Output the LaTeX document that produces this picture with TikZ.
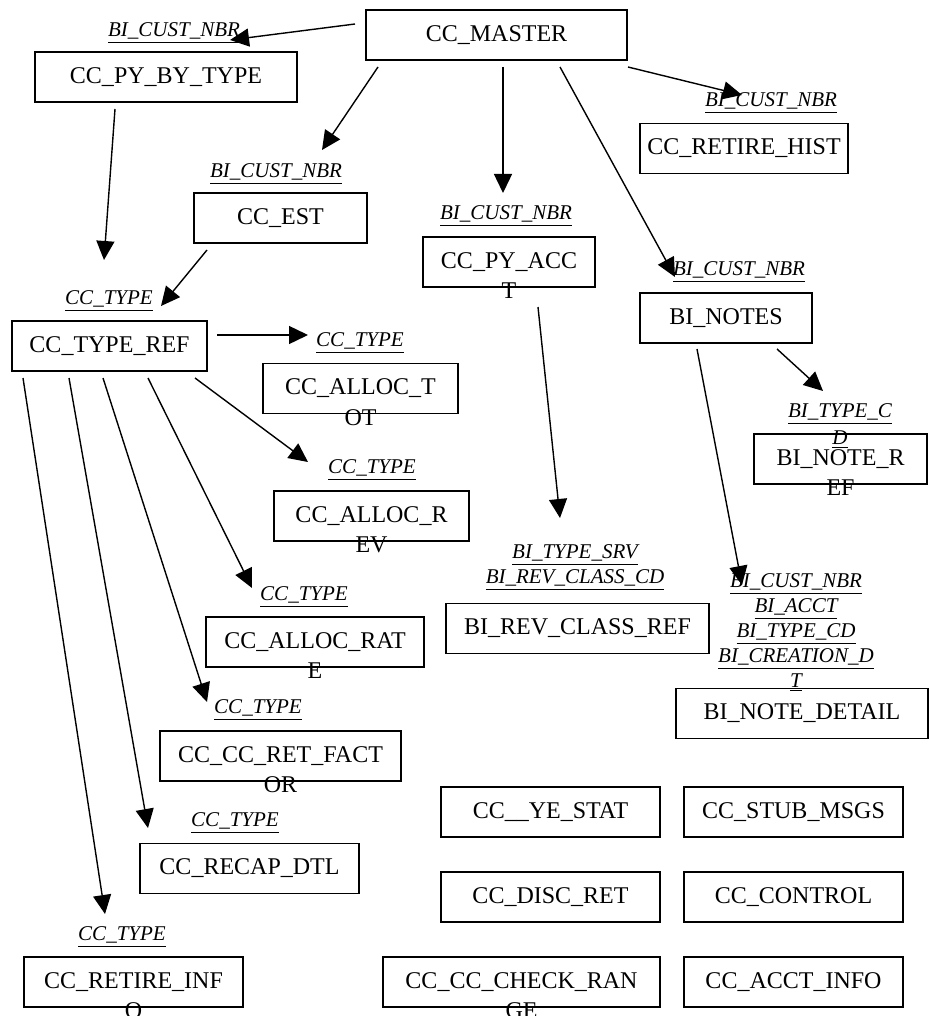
\documentclass[tikz,border=0pt]{standalone}
\usepackage{fontspec}
\setmainfont{Liberation Serif}
\usetikzlibrary{arrows.meta}

\tikzset{
    tbl/.style={draw, line width=0.9pt, minimum height=25pt, inner sep=0pt, font=\fontsize{12}{14}\selectfont},
    key/.style={inner sep=0pt, align=center, font=\fontsize{10.5}{12.5}\selectfont\itshape},
    wrap/.style={label={[anchor=center, yshift=-1.5pt, inner sep=0pt, font=\fontsize{12}{14}\selectfont]below:#1}},
    fk/.style={-{Triangle[length=9.5pt, width=9pt]}, line width=0.7pt},
}

\begin{document}
\begin{tikzpicture}[x=0.5pt, y=-0.5pt]
    \useasboundingbox (0,0) rectangle (929,1016);

    % Tables
    \node (master) [tbl, minimum width=130.5pt] at (496.5,35) {CC\_MASTER};
    \node (pybytype) [tbl, minimum width=131pt] at (166,77) {CC\_PY\_BY\_TYPE};
    \node (est) [tbl, minimum width=86.5pt] at (280.5,218) {CC\_EST};
    \node (pyacct) [tbl, minimum width=86pt, wrap=T] at (509,262) {CC\_PY\_ACC};
    \node (retirehist) [tbl, minimum width=104pt] at (744,148.5) {CC\_RETIRE\_HIST};
    \node (binotes) [tbl, minimum width=86pt] at (726,318) {BI\_NOTES};
    \node (noteref) [tbl, minimum width=86.5pt, wrap=EF] at (840.5,459) {BI\_NOTE\_R};
    \node (notedetail) [tbl, minimum width=126pt] at (802,713.5) {BI\_NOTE\_DETAIL};
    \node (revclass) [tbl, minimum width=131.5pt] at (577.5,628.5) {BI\_REV\_CLASS\_REF};
    \node (typeref) [tbl, minimum width=97.5pt] at (109.5,346) {CC\_TYPE\_REF};
    \node (alloctot) [tbl, minimum width=97.5pt, wrap=OT] at (360.5,388.5) {CC\_ALLOC\_T};
    \node (allocrev) [tbl, minimum width=97.5pt, wrap=EV] at (371.5,516) {CC\_ALLOC\_R};
    \node (allocrate) [tbl, minimum width=109pt, wrap=E] at (315,642) {CC\_ALLOC\_RAT};
    \node (retfactor) [tbl, minimum width=120.5pt, wrap=OR] at (280.5,756) {CC\_CC\_RET\_FACT};
    \node (recap) [tbl, minimum width=109.5pt] at (249.5,868.5) {CC\_RECAP\_DTL};
    \node (retireinf) [tbl, minimum width=109.5pt, wrap=O] at (133.5,982) {CC\_RETIRE\_INF};
    \node (yestat) [tbl, minimum width=109.5pt] at (550.5,812) {CC\_\_YE\_STAT};
    \node (stubmsgs) [tbl, minimum width=109.5pt] at (793.5,812) {CC\_STUB\_MSGS};
    \node (discret) [tbl, minimum width=109.5pt] at (550.5,897) {CC\_DISC\_RET};
    \node (control) [tbl, minimum width=109.5pt] at (793.5,897) {CC\_CONTROL};
    \node (checkrange) [tbl, minimum width=138.5pt, wrap=GE] at (521.5,982) {CC\_CC\_CHECK\_RAN};
    \node (acctinfo) [tbl, minimum width=109.5pt] at (793.5,982) {CC\_ACCT\_INFO};

    % Key columns
    \node (pybytype-key) [key] at (174,33) {\underline{BI\_CUST\_NBR}};
    \node (est-key) [key] at (276,174) {\underline{BI\_CUST\_NBR}};
    \node (pyacct-key) [key] at (506,216) {\underline{BI\_CUST\_NBR}};
    \node (retirehist-key) [key] at (771,103) {\underline{BI\_CUST\_NBR}};
    \node (binotes-key) [key] at (739,272) {\underline{BI\_CUST\_NBR}};
    \node (noteref-key) [key, font=\fontsize{10.5}{13.5}\selectfont\itshape] at (840,426) {\underline{BI\_TYPE\_C}\\\underline{D}};
    \node (notedetail-key) [key] at (796,632.5) {\underline{BI\_CUST\_NBR}\\\underline{BI\_ACCT}\\\underline{BI\_TYPE\_CD}\\\underline{BI\_CREATION\_D}\\\underline{T}};
    \node (revclass-key) [key] at (575,567.5) {\underline{BI\_TYPE\_SRV}\\\underline{BI\_REV\_CLASS\_CD}};
    \node (typeref-key) [key] at (109,301) {\underline{CC\_TYPE}};
    \node (alloctot-key) [key] at (360,343) {\underline{CC\_TYPE}};
    \node (allocrev-key) [key] at (372,470) {\underline{CC\_TYPE}};
    \node (allocrate-key) [key] at (304,597) {\underline{CC\_TYPE}};
    \node (retfactor-key) [key] at (258,710) {\underline{CC\_TYPE}};
    \node (recap-key) [key] at (235,823) {\underline{CC\_TYPE}};
    \node (retireinf-key) [key] at (122,937) {\underline{CC\_TYPE}};

    % Arrows from CC_MASTER
    \draw[fk] ([shift={(-141.5,-11)}]master.center) -- ([shift={(56,7)}]pybytype-key.center);
    \draw[fk] ([shift={(-118.5,32)}]master.center) -- ([shift={(46,-24)}]est-key.center);
    \draw[fk] ([shift={(6.5,32)}]master.center) -- ([shift={(-3,-23)}]pyacct-key.center);
    \draw[fk] ([shift={(131.5,32)}]master.center) -- ([shift={(-29,-8)}]retirehist-key.center);
    \draw[fk] ([shift={(63.5,32)}]master.center) -- ([shift={(-64,5)}]binotes-key.center);

    % Arrows into CC_TYPE_REF
    \draw[fk] ([shift={(-51,32)}]pybytype.center) -- ([shift={(-5,-41)}]typeref-key.center);
    \draw[fk] ([shift={(-73.5,32)}]est.center) -- ([shift={(52,5)}]typeref-key.center);

    % Arrows from CC_TYPE_REF
    \draw[fk] ([shift={(107.5,-11)}]typeref.center) -- ([shift={(-52,-8)}]alloctot-key.center);
    \draw[fk] ([shift={(85.5,32)}]typeref.center) -- ([shift={(-64,-8)}]allocrev-key.center);
    \draw[fk] ([shift={(38.5,32)}]typeref.center) -- ([shift={(-52,-9)}]allocrate-key.center);
    \draw[fk] ([shift={(-6.5,32)}]typeref.center) -- ([shift={(-51,-8)}]retfactor-key.center);
    \draw[fk] ([shift={(-40.5,32)}]typeref.center) -- ([shift={(-87,5)}]recap-key.center);
    \draw[fk] ([shift={(-86.5,32)}]typeref.center) -- ([shift={(-17,-23)}]retireinf-key.center);

    % Remaining arrows
    \draw[fk] ([shift={(29,45)}]pyacct.center) -- ([shift={(-15,-49.5)}]revclass-key.center);
    \draw[fk] ([shift={(51,31)}]binotes.center) -- ([shift={(-17,-35)}]noteref-key.center);
    \draw[fk] ([shift={(-29,31)}]binotes.center) -- ([shift={(-54,-47.5)}]notedetail-key.center);

\end{tikzpicture}
\end{document}
